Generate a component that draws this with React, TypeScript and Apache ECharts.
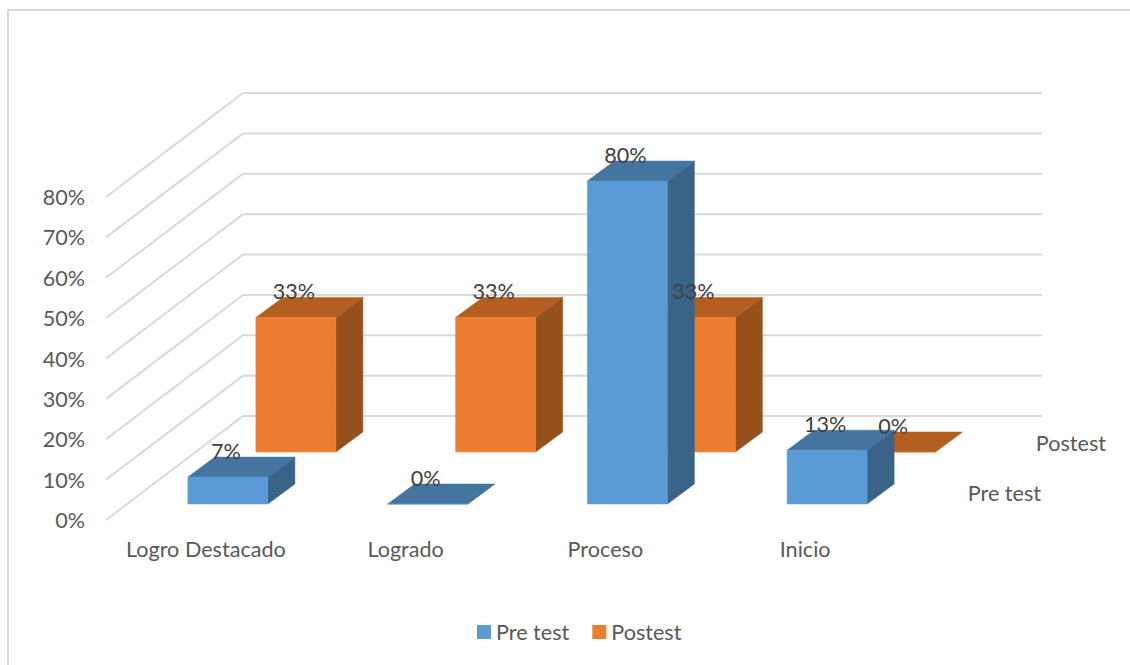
import React, { useEffect, useRef } from "react";
import * as echarts from "echarts";

const categories = ["Logro Destacado", "Logrado", "Proceso", "Inicio"];
const preTest = [6.67, 0, 80, 13.33];
const postest = [33.33, 33.33, 33.33, 0];
const ticks = [0, 10, 20, 30, 40, 50, 60, 70, 80];
const depthLabels = ["Postest", "Pre test"];

const FONT = "Lato";
const FONT_SIZE = 21.6;
const TEXT = "#595959";
const WALL_DX = 137;
const WALL_DY = -104;
const BAR_W = 80;
const SIDE_DX = 27;
const SIDE_DY = -20;

function barRenderer(offX: number, offY: number, front: string, top: string, side: string) {
  return (params: any, api: any) => {
    const vx = api.value(0);
    const v = api.value(1);
    const t = api.coord([vx, v]);
    const b = api.coord([vx, 0]);
    const x0 = t[0] + offX;
    const x1 = x0 + BAR_W;
    const yTop = t[1] + offY;
    const yBase = b[1] + offY;
    const poly = (points: number[][], fill: string) => ({
      type: "polygon",
      shape: { points },
      style: { fill, stroke: fill, lineWidth: 0.5 },
    });
    return {
      type: "group",
      children: [
        poly(
          [
            [x1, yBase],
            [x1 + SIDE_DX, yBase + SIDE_DY],
            [x1 + SIDE_DX, yTop + SIDE_DY],
            [x1, yTop],
          ],
          side
        ),
        poly(
          [
            [x0, yTop],
            [x1, yTop],
            [x1 + SIDE_DX, yTop + SIDE_DY],
            [x0 + SIDE_DX, yTop + SIDE_DY],
          ],
          top
        ),
        poly(
          [
            [x0, yBase],
            [x1, yBase],
            [x1, yTop],
            [x0, yTop],
          ],
          front
        ),
        {
          type: "text",
          z2: 100,
          style: {
            x: (x0 + x1) / 2 - 2,
            y: yTop - 26,
            text: `${Math.round(v)}%`,
            fill: "#404040",
            font: `${FONT_SIZE}px ${FONT}`,
            align: "center",
            verticalAlign: "middle",
          },
        },
      ],
    };
  };
}

function wallRenderer(params: any, api: any) {
  const cs = params.coordSys;
  const y = api.coord([0, api.value(1)])[1];
  return {
    type: "polyline",
    shape: {
      points: [
        [cs.x, y],
        [cs.x + WALL_DX, y + WALL_DY],
        [cs.x + cs.width + WALL_DX, y + WALL_DY],
      ],
    },
    style: { stroke: "#d9d9d9", lineWidth: 2, fill: "none" },
  };
}

export default function App() {
  const ref = useRef<HTMLDivElement>(null);
  useEffect(() => {
    const chart = echarts.init(ref.current!, undefined, { renderer: "svg" });
    chart.setOption({
      animation: false,
      backgroundColor: "#ffffff",
      textStyle: { fontFamily: FONT },
      grid: { left: 106, right: 225, top: 197, bottom: 145 },
      legend: {
        data: ["Pre test", "Postest"],
        left: 472,
        top: 616,
        icon: "rect",
        itemWidth: 14,
        itemHeight: 14,
        itemGap: 23,
        textStyle: { color: TEXT, fontFamily: FONT, fontSize: FONT_SIZE },
        selectedMode: false,
      },
      xAxis: {
        type: "category",
        data: categories,
        axisLine: { show: false },
        axisTick: { show: false },
        splitLine: { show: false },
        axisLabel: {
          color: TEXT,
          fontFamily: FONT,
          fontSize: FONT_SIZE,
          margin: 18,
          interval: 0,
        },
      },
      yAxis: {
        type: "value",
        min: 0,
        max: 80,
        interval: 10,
        splitLine: { show: false },
        axisLine: { show: false },
        axisTick: { show: false },
        axisLabel: {
          color: TEXT,
          fontFamily: FONT,
          fontSize: FONT_SIZE,
          margin: 21,
          formatter: "{value}%",
        },
      },
      graphic: [
        {
          type: "rect",
          z: -10,
          silent: true,
          shape: { x: 8, y: 10, width: 1200, height: 700 },
          style: { fill: "none", stroke: "#d9d9d9", lineWidth: 2 },
        },
        {
          type: "text",
          style: {
            x: 1106,
            y: 443,
            text: depthLabels[0],
            fill: TEXT,
            font: `${FONT_SIZE}px ${FONT}`,
            align: "right",
            verticalAlign: "middle",
          },
        },
        {
          type: "text",
          style: {
            x: 1041,
            y: 493,
            text: depthLabels[1],
            fill: TEXT,
            font: `${FONT_SIZE}px ${FONT}`,
            align: "right",
            verticalAlign: "middle",
          },
        },
      ],
      series: [
        {
          type: "custom",
          name: "walls",
          silent: true,
          data: ticks.map((t) => [0, t]),
          encode: { x: 0, y: 1 },
          renderItem: wallRenderer,
        },
        {
          type: "custom",
          name: "Postest",
          itemStyle: { color: "#ED7D31" },
          data: categories.map((c, i) => [i, postest[i]]),
          encode: { x: 0, y: 1 },
          renderItem: barRenderer(50, -68, "#ED7D31", "#B45F20", "#96501C"),
        },
        {
          type: "custom",
          name: "Pre test",
          itemStyle: { color: "#5B9BD5" },
          data: categories.map((c, i) => [i, preTest[i]]),
          encode: { x: 0, y: 1 },
          renderItem: barRenderer(-18, -16, "#5B9BD5", "#4475A1", "#3A6487"),
        },
      ],
    });
    return () => chart.dispose();
  }, []);
  return (
    <div
      ref={ref}
      style={{ position: "absolute", left: 0, top: 0, width: 1130, height: 665 }}
    />
  );
}
